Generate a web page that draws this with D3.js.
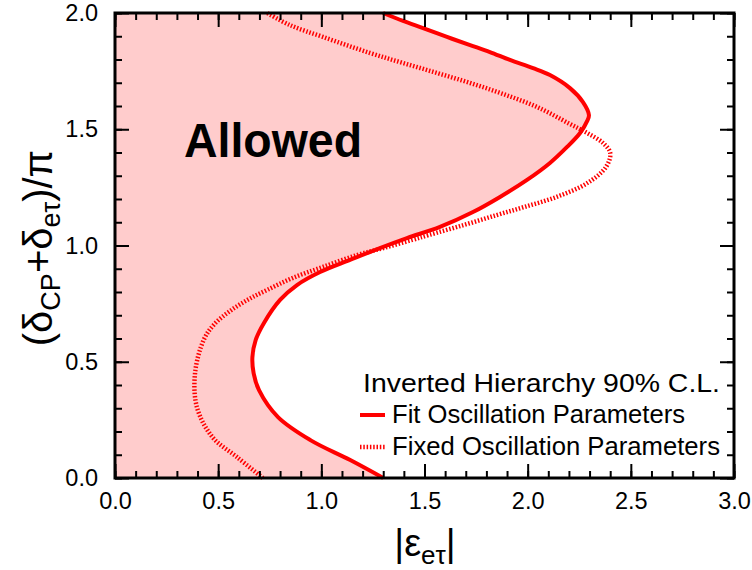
<!DOCTYPE html>
<html>
<head>
<meta charset="utf-8">
<script src="https://cdn.jsdelivr.net/npm/d3@7"></script>
<style>
  body { margin: 0; background: #fff; }
  text { font-family: "Liberation Sans", Arial, Helvetica, sans-serif; }
</style>
</head>
<body>
<svg width="752" height="570"></svg>
<script>
// contours traced from y = 0 up to y = 2: |eps_etau| and (dCP+detau)/pi
const fitX = [1.30, 1.14, 0.947, 0.790, 0.698, 0.672, 0.666, 0.682, 0.722, 0.800, 0.882, 0.994, 1.139, 1.284, 1.415, 1.575, 1.735, 1.866, 1.997, 2.108, 2.191, 2.254, 2.288, 2.297, 2.268, 2.205, 2.108, 2.026, 1.914, 1.817, 1.721, 1.609, 1.493, 1.396, 1.299];
const fitY = [0, 0.077, 0.163, 0.262, 0.378, 0.450, 0.520, 0.594, 0.667, 0.766, 0.830, 0.886, 0.938, 0.989, 1.032, 1.080, 1.144, 1.209, 1.282, 1.355, 1.424, 1.484, 1.535, 1.561, 1.617, 1.677, 1.733, 1.763, 1.798, 1.832, 1.862, 1.897, 1.935, 1.966, 2.0];
const fixX = [0.717, 0.591, 0.472, 0.397, 0.388, 0.430, 0.480, 0.560, 0.650, 0.740, 0.860, 1.008, 1.173, 1.300, 1.440, 1.520, 1.690, 1.850, 1.985, 2.140, 2.290, 2.380, 2.400, 2.365, 2.288, 2.200, 2.045, 1.880, 1.721, 1.561, 1.396, 1.236, 1.008, 0.848, 0.737];
const fixY = [0, 0.090, 0.176, 0.305, 0.452, 0.594, 0.660, 0.720, 0.770, 0.810, 0.860, 0.908, 0.959, 0.989, 1.024, 1.045, 1.088, 1.131, 1.166, 1.209, 1.269, 1.338, 1.398, 1.441, 1.484, 1.525, 1.596, 1.652, 1.699, 1.742, 1.785, 1.828, 1.897, 1.948, 2.0];
const majorX = [0, 0.5, 1.0, 1.5, 2.0, 2.5, 3.0];
const majorY = [0, 0.5, 1.0, 1.5, 2.0];
const legendTitle = "Inverted Hierarchy 90% C.L.";
const legendLines = ["Fit Oscillation Parameters", "Fixed Oscillation Parameters"];

const svg = d3.select("svg");
const mLeft = 115, mRight = 734, mTop = 13, mBottom = 478;

const x = d3.scaleLinear().domain([0, 3]).range([mLeft, mRight]);
const y = d3.scaleLinear().domain([0, 2]).range([mBottom, mTop]);

const fit = fitX.map((v, i) => [v, fitY[i]]);
const fix = fixX.map((v, i) => [v, fixY[i]]);

const line = d3.line()
  .x(d => x(d[0]))
  .y(d => y(d[1]))
  .curve(d3.curveCatmullRom.alpha(0.5));

const dotted = "1.5,1.8";

// allowed region: from the y axis to the fit contour
svg.append("path")
  .attr("d", "M" + x(0) + "," + y(0) + line(fit).replace("M", "L") + "L" + x(0) + "," + y(2) + "Z")
  .attr("fill", "#ffcccc");

svg.append("path")
  .attr("d", line(fix))
  .attr("fill", "none")
  .attr("stroke", "#ff0000")
  .attr("stroke-width", 4.5)
  .attr("stroke-dasharray", dotted);

svg.append("path")
  .attr("d", line(fit))
  .attr("fill", "none")
  .attr("stroke", "#ff0000")
  .attr("stroke-width", 4);

// ticks on all four sides, pointing in
const minorX = d3.range(0, 31).map(i => i / 10);
const minorY = d3.range(0, 21).map(i => i / 10);
const fmt = d3.format(".1f");

function styleAxis(g) {
  g.select(".domain").remove();
  g.selectAll("line").attr("stroke", "#000").attr("stroke-width", 2);
  g.selectAll("text").attr("font-size", 23.5).attr("fill", "#000");
}

svg.append("g").attr("transform", `translate(0,${mBottom})`)
  .call(d3.axisBottom(x).tickValues(minorX).tickSize(-7).tickFormat(""))
  .call(styleAxis);
svg.append("g").attr("transform", `translate(0,${mBottom})`)
  .call(d3.axisBottom(x).tickValues(majorX).tickSize(-14).tickPadding(14).tickFormat(fmt))
  .call(styleAxis);
svg.append("g").attr("transform", `translate(0,${mTop})`)
  .call(d3.axisTop(x).tickValues(minorX).tickSize(-7).tickFormat(""))
  .call(styleAxis);
svg.append("g").attr("transform", `translate(0,${mTop})`)
  .call(d3.axisTop(x).tickValues(majorX).tickSize(-14).tickFormat(""))
  .call(styleAxis);
svg.append("g").attr("transform", `translate(${mLeft},0)`)
  .call(d3.axisLeft(y).tickValues(minorY).tickSize(-7).tickFormat(""))
  .call(styleAxis);
svg.append("g").attr("transform", `translate(${mLeft},0)`)
  .call(d3.axisLeft(y).tickValues(majorY).tickSize(-14).tickPadding(17).tickFormat(fmt))
  .call(styleAxis);
svg.append("g").attr("transform", `translate(${mRight},0)`)
  .call(d3.axisRight(y).tickValues(minorY).tickSize(-7).tickFormat(""))
  .call(styleAxis);
svg.append("g").attr("transform", `translate(${mRight},0)`)
  .call(d3.axisRight(y).tickValues(majorY).tickSize(-14).tickFormat(""))
  .call(styleAxis);

svg.append("rect")
  .attr("x", mLeft).attr("y", mTop)
  .attr("width", mRight - mLeft).attr("height", mBottom - mTop)
  .attr("fill", "none").attr("stroke", "#000").attr("stroke-width", 3);

svg.append("text")
  .attr("x", 184).attr("y", 157)
  .attr("font-size", 48).attr("font-weight", "bold")
  .attr("textLength", 178).attr("lengthAdjust", "spacingAndGlyphs")
  .text("Allowed");

// legend
svg.append("text")
  .attr("x", 363).attr("y", 392)
  .attr("font-size", 26)
  .attr("textLength", 357).attr("lengthAdjust", "spacingAndGlyphs")
  .text(legendTitle);
const legendLen = [293, 328];
legendLines.forEach((t, i) => {
  const ly = 415 + i * 32;
  svg.append("line")
    .attr("x1", 360).attr("x2", 385).attr("y1", ly).attr("y2", ly)
    .attr("stroke", "#ff0000")
    .attr("stroke-width", i === 0 ? 4 : 4.5)
    .attr("stroke-dasharray", i === 0 ? null : dotted);
  svg.append("text")
    .attr("x", 392).attr("y", ly + 8)
    .attr("font-size", 25)
    .attr("textLength", legendLen[i]).attr("lengthAdjust", "spacingAndGlyphs")
    .text(t);
});

// axis titles
const xt = svg.append("text")
  .attr("x", 425).attr("y", 556).attr("text-anchor", "middle")
  .attr("font-size", 38);
xt.append("tspan").text("|ε");
xt.append("tspan").attr("font-size", 26).attr("dy", 8).text("eτ");
xt.append("tspan").attr("dy", -8).text("|");

const yt = svg.append("text")
  .attr("transform", "translate(52,248) rotate(-90)")
  .attr("text-anchor", "middle")
  .attr("font-size", 40);
yt.append("tspan").text("(δ");
yt.append("tspan").attr("font-size", 27).attr("dy", 8).text("CP");
yt.append("tspan").attr("dy", -8).text("+δ");
yt.append("tspan").attr("font-size", 27).attr("dy", 8).text("eτ");
yt.append("tspan").attr("dy", -8).text(")/π");
</script>
</body>
</html>
